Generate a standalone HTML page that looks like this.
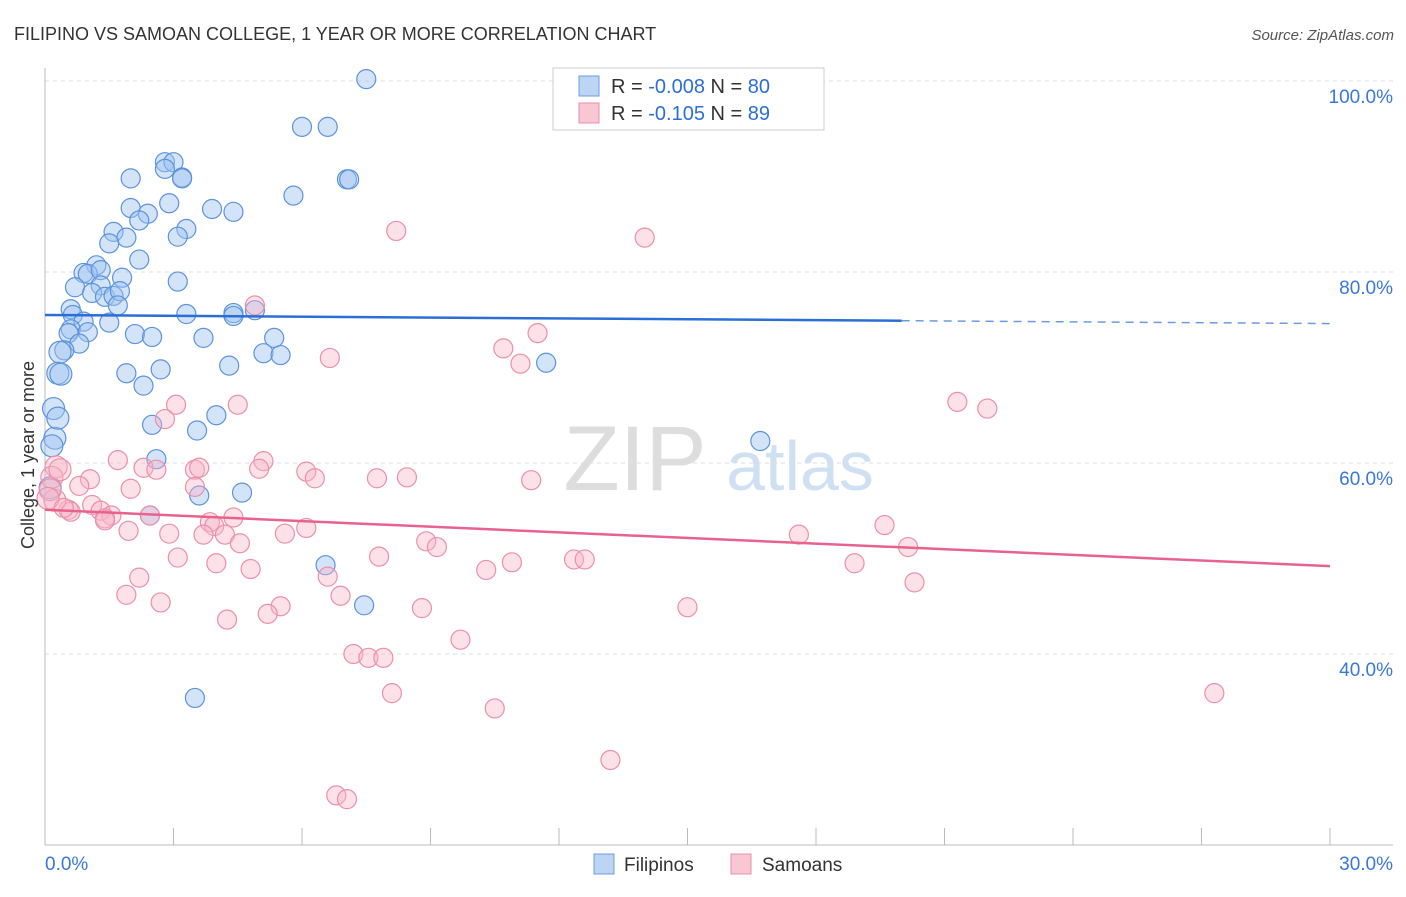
<!DOCTYPE html>
<html><head><meta charset="utf-8"><style>
body{margin:0;background:#fff;font-family:"Liberation Sans",sans-serif}
svg text{font-family:"Liberation Sans",sans-serif}
</style></head><body>
<svg width="1406" height="892" viewBox="0 0 1406 892">
<text x="14" y="40" font-size="18" fill="#333">FILIPINO VS SAMOAN COLLEGE, 1 YEAR OR MORE CORRELATION CHART</text>
<text x="1394" y="40" font-size="15" fill="#555" font-style="italic" text-anchor="end">Source: ZipAtlas.com</text>
<g><text x="635" y="490" font-size="92" fill="#ddd" text-anchor="middle" font-family="Liberation Serif">ZIP</text><text x="800" y="490" font-size="70" fill="#cfe0f3" text-anchor="middle">atlas</text></g>
<g id="grid"></g><g id="axes"></g><g id="pts"></g><g id="trend"></g>
<text x="34" y="455" font-size="18" fill="#333" transform="rotate(-90 34 455)" text-anchor="middle">College, 1 year or more</text>
<g>
<rect x="553" y="68" width="271" height="62" fill="#fff" stroke="#ccc"/>
<rect x="579" y="76" width="20" height="20" fill="#bcd5f3" stroke="#6b9fe0"/>
<rect x="579" y="103" width="20" height="20" fill="#f9c6d4" stroke="#eb8fab"/>
<text x="611" y="93" font-size="20" fill="#333">R = <tspan fill="#2b6fd6">-0.008</tspan>   N = <tspan fill="#2b6fd6">80</tspan></text>
<text x="611" y="120" font-size="20" fill="#333">R =  <tspan fill="#2b6fd6">-0.105</tspan>   N = <tspan fill="#2b6fd6">89</tspan></text>
</g>
<g>
<rect x="594" y="854" width="20" height="20" fill="#bcd5f3" stroke="#6b9fe0"/><text x="624" y="871" font-size="19" fill="#333">Filipinos</text>
<rect x="731" y="854" width="20" height="20" fill="#f9c6d4" stroke="#eb8fab"/><text x="762" y="871" font-size="19" fill="#333">Samoans</text>
</g>
</svg>
<script>
const yTicks=[100,80,60,40];
const xTickLabels=["0.0%","30.0%"];
const blueX=[7.5,6.0,6.6,2.8,3.0,2.8,3.2,3.2,7.05,7.1,2.0,5.8,2.9,3.9,4.4,2.0,2.4,2.2,3.3,1.6,3.1,1.9,1.5,2.2,1.2,0.9,1.0,1.3,1.8,3.1,0.7,1.3,1.1,1.4,1.6,1.75,1.7,0.6,0.65,3.3,4.4,4.4,4.9,0.9,1.5,0.6,1.0,2.1,2.5,3.7,5.35,0.55,0.8,0.45,0.35,5.1,5.5,1.9,2.7,11.7,0.3,0.37,2.3,4.3,0.2,0.23,4.0,2.5,3.55,0.16,2.6,4.6,3.6,16.7,2.45,6.55,7.45,3.5,0.12,0.3];
const blueY=[100.2,95.2,95.2,91.5,91.5,90.8,89.9,89.8,89.7,89.7,89.8,88.0,87.2,86.6,86.3,86.7,86.1,85.4,84.5,84.2,83.7,83.6,83.0,81.3,80.7,79.9,79.8,80.2,79.4,79.0,78.4,78.6,77.8,77.4,77.5,78.0,76.5,76.1,75.5,75.6,75.7,75.4,76.0,74.8,74.7,74.0,73.7,73.5,73.2,73.1,73.1,73.6,72.5,71.8,71.6,71.5,71.3,69.4,69.8,70.5,69.4,69.3,68.1,70.2,65.7,62.6,65.0,64.0,63.4,61.8,60.4,56.9,56.6,62.3,54.5,49.3,45.1,35.4,57.4,64.7];
const pinkX=[8.2,14.0,4.9,11.5,10.7,6.65,11.1,21.3,22.0,4.5,3.06,2.8,1.7,2.3,2.6,3.5,3.6,5.1,5.0,6.1,6.3,7.75,8.45,11.35,0.26,0.16,1.05,0.8,2.0,3.5,1.1,1.3,0.55,0.6,1.55,1.4,1.4,2.45,3.85,3.95,4.4,1.95,2.9,3.7,4.2,4.55,6.1,5.6,8.9,9.15,7.8,3.1,4.0,4.8,10.3,10.9,12.35,12.6,17.6,19.6,20.15,18.9,20.3,2.2,1.9,2.7,5.5,5.2,4.25,6.6,6.9,8.8,15.0,9.7,7.2,7.55,7.9,8.1,10.5,13.2,6.8,7.05,27.3,0.23,0.12,0.07,0.35,0.44];
const pinkY=[84.3,83.6,76.5,73.6,72.0,71.0,70.4,66.4,65.7,66.1,66.1,64.6,60.3,59.5,59.3,59.3,59.5,60.2,59.4,59.1,58.4,58.4,58.5,58.2,59.6,58.5,58.3,57.6,57.3,57.5,55.6,55.0,55.1,54.9,54.5,54.2,54.0,54.5,53.8,53.4,54.3,52.9,52.6,52.5,52.5,51.6,53.2,52.6,51.8,51.2,50.2,50.1,49.5,48.9,48.8,49.6,49.9,49.9,52.5,53.5,51.2,49.5,47.5,48.0,46.2,45.4,45.0,44.2,43.6,48.1,46.1,44.8,44.9,41.5,40.0,39.6,39.6,35.9,34.3,28.9,25.2,24.8,35.9,56.1,57.2,56.3,59.3,55.3];
const blueTrend=[75.5,74.6], pinkTrend=[55.1,49.2], blueSolidEnd=20;
const NS="http://www.w3.org/2000/svg";
const X=v=>45+v/30*1285, Y=v=>81+(100-v)*9.55;
function mk(t,a,p){const e=document.createElementNS(NS,t);for(const k in a)e.setAttribute(k,a[k]);document.getElementById(p).appendChild(e);return e;}
yTicks.forEach(t=>{
 const l=mk('line',{x1:45,x2:1393,y1:Y(t),y2:Y(t),stroke:'#ddd','stroke-dasharray':'4 4'},'grid');
 
 
 const tx=mk('text',{x:1393,y:Y(t)+22,'font-size':19,fill:'#3a78d8','text-anchor':'end'},'grid');
 tx.textContent=t.toFixed(1)+'%';
 
 
});
const ax=mk('line',{x1:45,x2:1393,y1:845,y2:845,stroke:'#bbb'},'axes');


const ay=mk('line',{x1:45,x2:45,y1:68,y2:845,stroke:'#bbb'},'axes');


for(let i=0;i<=10;i++){const tk=mk('line',{x1:X(i*3),x2:X(i*3),y1:828,y2:845,stroke:'#bbb'},'axes');
 
 }
[[0,'start',45],[30,'end',1393]].forEach((d,i)=>{const t=mk('text',{x:d[2],y:870,'font-size':19,fill:'#3a78d8','text-anchor':d[1]},'axes');t.textContent=xTickLabels[i];
 
 });
blueX.forEach((x,i)=>{const c=mk('circle',{cx:X(x),cy:Y(blueY[i]),r:x<0.4?11:9.5,fill:'rgba(160,196,240,0.45)',stroke:'#5b93dd','stroke-width':1.2},'pts');
 
 });
pinkX.forEach((x,i)=>{const c=mk('circle',{cx:X(x),cy:Y(pinkY[i]),r:x<0.4?11:9.5,fill:'rgba(248,180,200,0.4)',stroke:'#ec8fab','stroke-width':1.2},'pts');
 
 });
const bt=v=>blueTrend[0]+(blueTrend[1]-blueTrend[0])*v/30;
const l1=mk('line',{x1:X(0),y1:Y(bt(0)),x2:X(blueSolidEnd),y2:Y(bt(blueSolidEnd)),stroke:'#2a6fd6','stroke-width':2.5},'trend');


const l2=mk('line',{x1:X(blueSolidEnd),y1:Y(bt(blueSolidEnd)),x2:X(30),y2:Y(bt(30)),stroke:'#6a9ce0','stroke-width':1.5,'stroke-dasharray':'8 6'},'trend');


const l3=mk('line',{x1:X(0),y1:Y(pinkTrend[0]),x2:X(30),y2:Y(pinkTrend[1]),stroke:'#e8628e','stroke-width':2.5},'trend');


</script>
</body></html>
